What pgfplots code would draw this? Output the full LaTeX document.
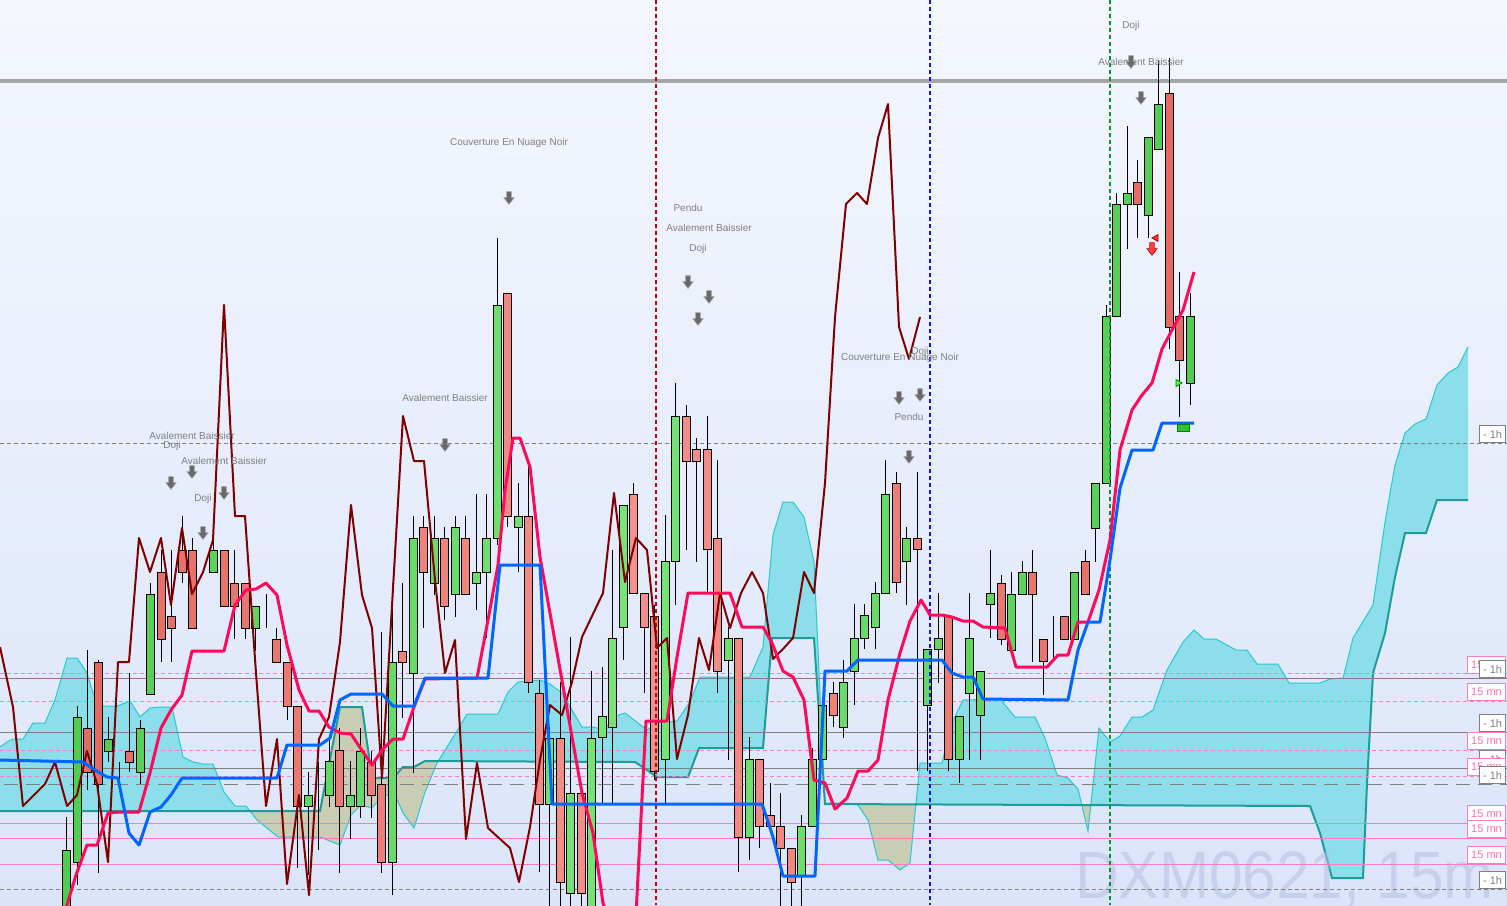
\documentclass[border=0pt]{standalone}
\usepackage{pgfplots}
\pgfplotsset{compat=1.18}
\usepackage{pgfplotstable}
\usepackage{fontspec}
\setmainfont{Liberation Sans}

\definecolor{bgtop}{RGB}{244,247,254}
\definecolor{bgbot}{RGB}{219,228,249}
\definecolor{cloudc}{RGB}{140,222,234}
\definecolor{cloudt}{RGB}{200,205,180}
\definecolor{spanA}{RGB}{40,200,210}
\definecolor{spanB}{RGB}{30,155,155}
\definecolor{chik}{RGB}{128,0,0}
\definecolor{tenk}{RGB}{255,10,90}
\definecolor{kij}{RGB}{0,102,255}
\definecolor{cgD}{RGB}{80,205,80}
\definecolor{cgL}{RGB}{120,228,120}
\definecolor{crD}{RGB}{228,106,100}
\definecolor{crL}{RGB}{244,145,140}
\definecolor{pinkl}{RGB}{250,125,195}
\definecolor{greyl}{RGB}{128,128,128}
\definecolor{topl}{RGB}{166,166,166}
\definecolor{anng}{RGB}{128,128,128}
\definecolor{arrg}{RGB}{105,105,105}
\definecolor{wm}{RGB}{180,192,225}
\definecolor{vred}{RGB}{200,0,0}
\definecolor{vblue}{RGB}{20,20,235}
\definecolor{vgreen}{RGB}{0,150,50}
\definecolor{lblpink}{RGB}{255,110,180}

\pgfdeclareplotmark{darrow}{%
 \pgfpathmoveto{\pgfqpoint{-1.2pt}{3.2pt}}%
 \pgfpathlineto{\pgfqpoint{1.2pt}{3.2pt}}%
 \pgfpathlineto{\pgfqpoint{1.2pt}{0.2pt}}%
 \pgfpathlineto{\pgfqpoint{2.6pt}{0.2pt}}%
 \pgfpathlineto{\pgfqpoint{0pt}{-3.2pt}}%
 \pgfpathlineto{\pgfqpoint{-2.6pt}{0.2pt}}%
 \pgfpathlineto{\pgfqpoint{-1.2pt}{0.2pt}}%
 \pgfpathclose
 \pgfusepathqfillstroke}

\pgfplotsset{myax/.style={width=753.5pt, height=452.5pt, scale only axis,
  xmin=0, xmax=1507, ymin=0, ymax=905, y dir=reverse,
  axis lines=none, ticks=none, at={(0,0)}, anchor=south west, clip=true}}

\pgfplotstableread{
k O H L C
0 940 817 950 850
1 862 706 885 717
2 728 650 790 772
3 662 660 873 784
4 751 717 762 739
5 772 762 783 772
6 751 673 772 762
7 772 720 784 728
8 694 583 694 594
9 572 550 662 639
10 616 550 662 628
11 550 516 583 572
12 550 538 628 628
13 594 594 594 594
14 572 540 572 550
15 550 550 606 606
16 583 550 639 606
17 583 583 639 628
18 628 606 651 606
19 617 594 628 617
20 639 628 662 662
21 662 662 720 706
22 706 706 868 806
23 806 772 875 795
24 784 762 850 784
25 795 737 807 761
26 750 728 873 806
27 806 761 839 795
28 806 728 818 751
29 762 751 818 795
30 784 632 873 862
31 862 583 895 662
32 651 583 718 662
33 673 516 773 538
34 527 516 628 572
35 583 516 595 538
36 538 527 620 606
37 594 516 617 527
38 538 516 595 594
39 583 494 610 572
40 572 494 638 538
41 538 238 545 305
42 293 293 527 516
43 527 483 572 516
44 516 461 693 682
45 693 680 872 804
46 804 727 910 738
47 738 682 910 882
48 893 637 910 793
49 793 783 910 893
50 920 671 930 738
51 737 667 803 716
52 727 550 803 638
53 627 505 660 505
54 494 483 593 593
55 593 593 693 627
56 616 605 780 771
57 759 515 803 561
58 561 383 605 416
59 416 405 550 461
60 449 438 562 461
61 449 416 593 549
62 538 460 693 671
63 660 627 760 638
64 638 638 872 837
65 837 737 860 759
66 759 759 848 826
67 815 783 826 826
68 826 793 910 848
69 848 848 910 882
70 876 815 910 826
71 826 748 826 759
72 759 705 759 705
73 693 682 727 715
74 727 660 738 682
75 671 604 705 638
76 638 604 649 615
77 627 582 649 593
78 593 460 593 494
79 483 472 593 582
80 561 527 605 538
81 538 472 771 549
82 705 649 771 649
83 649 593 683 638
84 616 616 771 759
85 759 716 783 716
86 693 593 760 638
87 715 671 760 671
88 604 550 638 593
89 583 575 645 639
90 650 572 650 594
91 594 561 594 572
92 572 550 662 594
93 639 639 695 661
94 650 616 662 650
95 616 616 639 639
96 639 572 639 572
97 561 550 594 594
98 528 483 562 483
99 483 305 483 316
100 316 193 316 204
101 204 126 249 193
102 182 160 238 204
103 215 137 238 137
104 149 60 149 104
105 93 58 349 327
106 316 272 417 360
107 383 293 405 316
}\candles

\begin{document}
\begin{tikzpicture}
\shade[top color=bgtop, bottom color=bgbot] (0,0) rectangle (753.5pt,452.5pt);

% ---------- layer 1: cloud, horizontal lines, wicks
\begin{axis}[myax]
% cloud (cyan over whole band)
\addplot[fill=cloudc, draw=none] coordinates {
(0,747)(7,742)(13,739)(23,739)(33,723)(45,723)(55,700)(67,658)(77,658)(87,673)(97,706)(117,706)(130,701)(140,717)(150,708)(160,707)(172,707)(183,757)(193,762)(203,764)(213,764)(224,792)(235,806)(246,806)(257,820)(267,828)(278,837)(320,837)(340,845)(351,815)(361,805)(372,808)(383,795)(395,795)(403,813)(414,828)(425,792)(437,763)(447,747)(457,731)(467,714)(498,714)(508,692)(518,682)(540,680)(550,684)(562,693)(582,727)(593,727)(605,730)(613,717)(625,713)(647,730)(657,723)(677,721)(690,702)(700,677)(750,677)(763,647)(773,535)(783,502)(793,502)(804,517)(814,562)(825,803)(847,803)(858,805)(868,820)(878,860)(888,860)(900,870)(910,863)(920,763)(942,763)(952,723)(963,700)(1000,699)(1015,717)(1035,717)(1045,738)(1057,775)(1068,778)(1078,789)(1088,831)(1099,728)(1110,742)(1120,736)(1132,717)(1142,717)(1153,710)(1167,670)(1183,642)(1194,630)(1204,639)(1216,639)(1236,650)(1247,650)(1257,664)(1278,664)(1289,683)(1320,683)(1330,679)(1343,678)(1353,638)(1373,605)(1385,522)(1395,465)(1405,433)(1415,424)(1426,419)(1437,385)(1448,373)(1458,367)(1468,347)
(1468,500)(1437,500)(1426,533)(1405,533)(1395,577)(1385,633)(1373,673)(1367,783)(1363,878)(1332,878)(1320,833)(1310,806)(825,804)(814,638)(772,638)(763,748)(699,748)(688,777)(657,777)(647,770)(635,762)(425,761)(414,767)(403,767)(393,778)(372,778)(362,707)(340,707)(320,811)(0,811)
} -- cycle;
% tan parts
\addplot[fill=cloudt, draw=none] coordinates {
(250,811)(257,820)(267,828)(278,837)(320,837)(340,845)(351,815)(361,805)(372,808)(383,795)(395,795)(403,813)(414,828)(425,792)(437,763)(438,761)
(425,761)(414,767)(403,767)(393,778)(372,778)(362,707)(340,707)(320,811)} -- cycle;
\addplot[fill=cloudt, draw=none] coordinates {(855,804)(858,805)(868,820)(878,860)(888,860)(900,870)(910,863)(916,804)} -- cycle;
\addplot[fill=cloudt, draw=none] coordinates {(1082,806)(1088,831)(1091,806)} -- cycle;
% span A
\addplot[spanA, line width=0.5pt] coordinates {
(0,747)(7,742)(13,739)(23,739)(33,723)(45,723)(55,700)(67,658)(77,658)(87,673)(97,706)(117,706)(130,701)(140,717)(150,708)(160,707)(172,707)(183,757)(193,762)(203,764)(213,764)(224,792)(235,806)(246,806)(257,820)(267,828)(278,837)(320,837)(340,845)(351,815)(361,805)(372,808)(383,795)(395,795)(403,813)(414,828)(425,792)(437,763)(447,747)(457,731)(467,714)(498,714)(508,692)(518,682)(540,680)(550,684)(562,693)(582,727)(593,727)(605,730)(613,717)(625,713)(647,730)(657,723)(677,721)(690,702)(700,677)(750,677)(763,647)(773,535)(783,502)(793,502)(804,517)(814,562)(825,803)(847,803)(858,805)(868,820)(878,860)(888,860)(900,870)(910,863)(920,763)(942,763)(952,723)(963,700)(1000,699)(1015,717)(1035,717)(1045,738)(1057,775)(1068,778)(1078,789)(1088,831)(1099,728)(1110,742)(1120,736)(1132,717)(1142,717)(1153,710)(1167,670)(1183,642)(1194,630)(1204,639)(1216,639)(1236,650)(1247,650)(1257,664)(1278,664)(1289,683)(1320,683)(1330,679)(1343,678)(1353,638)(1373,605)(1385,522)(1395,465)(1405,433)(1415,424)(1426,419)(1437,385)(1448,373)(1458,367)(1468,347)};
% span B
\addplot[spanB, line width=1pt] coordinates {
(0,811)(320,811)(340,707)(362,707)(372,778)(393,778)(403,767)(414,767)(425,761)(635,762)(647,770)(657,777)(688,777)(699,748)(763,748)(772,638)(814,638)(825,804)(1310,806)(1320,833)(1332,878)(1363,878)(1367,783)(1373,673)(1385,633)(1395,577)(1405,533)(1426,533)(1437,500)(1468,500)};
% watermark
\node[anchor=base west, font=\fontsize{33.5}{33.5}\selectfont, text=wm, opacity=0.55, xscale=0.9, inner sep=0pt] at (axis cs:1075,898) {DXM0621, 15m};
% horizontal levels
\addplot[topl, line width=2pt] coordinates {(0,81)(1507,81)};
\addplot[greyl, line width=0.5pt, dash pattern=on 2pt off 1.5pt] coordinates {(0,443)(1507,443)};
\addplot[pinkl, line width=0.5pt, dash pattern=on 2pt off 1.5pt] coordinates {(0,673)(1507,673)};
\addplot[greyl, line width=0.5pt] coordinates {(0,678)(1507,678)};
\addplot[pinkl, line width=0.5pt, dash pattern=on 2pt off 1.5pt] coordinates {(0,701)(1507,701)};
\addplot[greyl, line width=0.5pt] coordinates {(0,732)(1507,732)};
\addplot[pinkl, line width=0.5pt, dash pattern=on 2pt off 1.5pt] coordinates {(0,750)(1507,750)};
\addplot[greyl, line width=0.5pt] coordinates {(0,768)(1507,768)};
\addplot[pinkl, line width=0.5pt, dash pattern=on 2pt off 1.5pt] coordinates {(0,776)(1507,776)};
\addplot[greyl, line width=0.5pt, dash pattern=on 7pt off 4pt] coordinates {(4,784)(1507,784)};
\addplot[pinkl, line width=0.5pt] coordinates {(0,823)(1507,823)};
\addplot[pinkl, line width=0.5pt] coordinates {(0,838)(1507,838)};
\addplot[pinkl, line width=0.5pt] coordinates {(0,864)(1507,864)};
\addplot[greyl, line width=0.5pt, dash pattern=on 2pt off 1.5pt] coordinates {(0,889)(1507,889)};
% wicks
\addplot[draw=none, error bars/.cd, y dir=plus, y explicit, error mark=none,
  error bar style={draw=black, line width=0.5pt, solid}]
  table[x expr=66.7+10.5*\thisrow{k}, y=H, y error expr=\thisrow{L}-\thisrow{H}] {\candles};
\end{axis}

% ---------- layer 2: candle bodies
\begin{axis}[myax, ybar stacked, bar width=8]
\addplot[draw=none, fill=none] table[x expr=66.7+10.5*\thisrow{k}, y expr={min(\thisrow{O},\thisrow{C})}] {\candles};
\addplot[draw=black, line width=0.5pt, left color=cgD, right color=cgD, middle color=cgL] table[x expr=66.7+10.5*\thisrow{k}, y expr={max(\thisrow{O}-\thisrow{C},0)}] {\candles};
\addplot[draw=black, line width=0.5pt, left color=crD, right color=crD, middle color=crL] table[x expr=66.7+10.5*\thisrow{k}, y expr={max(\thisrow{C}-\thisrow{O},0)}] {\candles};
\end{axis}

% ---------- layer 3: lines, annotations
\begin{axis}[myax]
\addplot[vred, line width=1pt, dash pattern=on 2pt off 1.5pt] coordinates {(656,0)(656,905)};
\addplot[vblue, line width=1pt, dash pattern=on 2pt off 1.5pt] coordinates {(930,0)(930,905)};
\addplot[vgreen, line width=1pt, dash pattern=on 2pt off 1.5pt] coordinates {(1110,0)(1110,905)};
% chikou
\addplot[chik, line width=1pt, line join=round] coordinates {
(0,647)(13,707)(23,806)(45,784)(55,762)(67,806)(77,795)(87,751)(97,784)(108,862)(118,662)(129,662)(139,538)(150,572)(161,538)(171,605)(182,528)(192,594)(203,572)(213,540)(224,305)(235,516)(245,516)(256,673)(266,806)(277,739)(287,884)(299,795)(309,895)(319,739)(329,717)(340,642)(351,505)(362,595)(372,628)(382,778)(403,416)(414,461)(424,461)(435,580)(445,673)(455,640)(466,839)(477,763)(488,828)(500,839)(510,848)(519,882)(530,827)(540,760)(550,705)(562,715)(572,682)(582,637)(603,593)(614,493)(625,582)(636,538)(647,550)(657,648)(667,638)(677,759)(688,715)(699,638)(709,670)(720,593)(730,628)(741,593)(752,572)(763,593)(773,659)(783,649)(793,638)(804,572)(814,593)(825,483)(835,317)(846,204)(857,193)(867,204)(878,138)(888,104)(899,327)(909,359)(920,317)};
% tenkan
\addplot[tenk, line width=1.5pt, line join=round] coordinates {
(64,915)(76,875)(87,845)(97,845)(108,813)(118,812)(139,812)(150,773)(161,728)(171,710)(182,695)(192,651)(224,651)(235,605)(246,590)(256,589)(266,583)(277,595)(287,645)(299,690)(309,711)(319,711)(329,727)(340,733)(351,734)(361,749)(372,765)(382,750)(393,739)(403,739)(414,707)(425,679)(477,678)(488,620)(498,565)(505,490)(513,438)(520,438)(530,467)(540,557)(582,793)(593,833)(603,903)(607,915)};
\addplot[tenk, line width=1.5pt, line join=round] coordinates {
(636,915)(646,721)(667,721)(677,657)(688,593)(730,593)(742,627)(763,627)(772,643)(783,671)(793,677)(804,700)(814,780)(825,783)(835,809)(847,798)(858,771)(868,771)(878,760)(888,700)(900,653)(910,621)(921,600)(930,615)(942,615)(952,617)(963,621)(973,621)(983,627)(1005,628)(1016,667)(1047,667)(1058,655)(1068,655)(1078,622)(1088,622)(1099,590)(1110,540)(1120,450)(1132,410)(1142,395)(1152,383)(1162,349)(1173,328)(1183,310)(1194,272)};
% kijun
\addplot[kij, line width=1.5pt, line join=round] coordinates {
(0,760)(83,762)(95,770)(107,777)(118,778)(129,833)(139,845)(150,812)(161,807)(171,795)(182,778)(277,778)(287,745)(320,745)(330,738)(340,700)(351,694)(382,694)(393,706)(414,706)(425,678)(488,678)(500,565)(540,565)(552,804)(762,804)(773,837)(783,876)(815,876)(825,671)(847,671)(858,660)(942,660)(952,673)(963,677)(973,677)(983,699)(1068,700)(1078,650)(1088,622)(1100,622)(1110,560)(1120,488)(1132,450)(1153,450)(1162,423)(1194,423)};
% signal markers
\addplot[fill=green!70!black!80, draw=green!50!black, line width=0.4pt] coordinates {(1177,424)(1189,424)(1189,431)(1177,431)} -- cycle;
\addplot[only marks, mark=triangle*, mark size=2pt, mark options={rotate=90, fill=red!80, draw=red!70!black}] coordinates {(1156,238)};
\addplot[only marks, mark=triangle*, mark size=2pt, mark options={rotate=-90, fill=green!70, draw=green!50!black}] coordinates {(1178,383)};
\addplot[only marks, mark=darrow, mark options={fill=red!75, draw=red!80!black, line width=0.3pt}] coordinates {(1152,249)};
% pattern arrows
\addplot[only marks, mark=darrow, mark options={fill=arrg, draw=arrg!60!white, line width=0.3pt}] coordinates {
(509,198)(445,445)(171,483)(192,472)(224,493)(203,533)(688,282)(709,297)(698,319)(899,398)(920,395)(909,457)(1131,62)(1141,98)};
% pattern labels
\begin{scope}[every node/.style={font=\fontsize{5}{6}\selectfont, text=anng, inner sep=0pt}]
\node at (axis cs:509,143) {Couverture En Nuage Noir};
\node at (axis cs:445,398) {Avalement Baissier};
\node at (axis cs:192,436) {Avalement Baissier};
\node at (axis cs:172,446) {Doji};
\node at (axis cs:224,461) {Avalement Baissier};
\node at (axis cs:203,499) {Doji};
\node at (axis cs:688,208) {Pendu};
\node at (axis cs:709,228) {Avalement Baissier};
\node at (axis cs:698,249) {Doji};
\node at (axis cs:900,358) {Couverture En Nuage Noir};
\node at (axis cs:920,352) {Doji};
\node at (axis cs:909,417) {Pendu};
\node at (axis cs:1131,26) {Doji};
\node at (axis cs:1141,62) {Avalement Baissier};
\end{scope}
% right-side level tags
\begin{scope}[every node/.style={font=\fontsize{5.5}{6}\selectfont, fill=white, inner sep=0pt, minimum height=8.3pt, anchor=south east, line width=0.5pt}]
\node[draw=greyl, text=greyl, minimum width=13pt] at (axis cs:1506,443) {- 1h};
\node[draw=pinkl, text=lblpink, minimum width=19pt] at (axis cs:1506,674) {15 mn};
\node[draw=greyl, text=greyl, minimum width=13pt] at (axis cs:1506,678) {- 1h};
\node[draw=pinkl, text=lblpink, minimum width=19pt] at (axis cs:1506,701) {15 mn};
\node[draw=greyl, text=greyl, minimum width=13pt] at (axis cs:1506,732) {- 1h};
\node[draw=pinkl, text=lblpink, minimum width=19pt] at (axis cs:1506,750) {15 mn};
\node[draw=greyl, text=greyl, minimum width=13pt] at (axis cs:1506,768) {- 1h};
\node[draw=pinkl, text=lblpink, minimum width=19pt] at (axis cs:1506,776) {15 mn};
\node[draw=greyl, text=greyl, minimum width=13pt] at (axis cs:1506,784) {- 1h};
\node[draw=pinkl, text=lblpink, minimum width=19pt] at (axis cs:1506,823) {15 mn};
\node[draw=pinkl, text=lblpink, minimum width=19pt] at (axis cs:1506,838) {15 mn};
\node[draw=pinkl, text=lblpink, minimum width=19pt] at (axis cs:1506,864) {15 mn};
\node[draw=greyl, text=greyl, minimum width=13pt] at (axis cs:1506,889) {- 1h};
\end{scope}
\end{axis}
\pgfresetboundingbox
\path (0,0) rectangle (753.5pt,452.5pt);
\end{tikzpicture}
\end{document}
